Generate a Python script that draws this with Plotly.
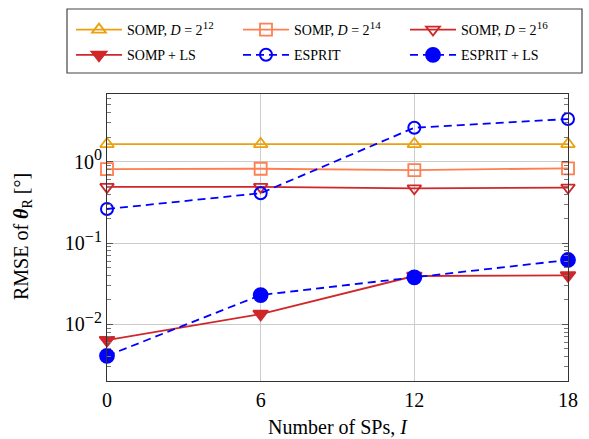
import plotly.graph_objects as go

x_sp = [0, 6, 12, 18]
somp_d12 = [1.65, 1.65, 1.65, 1.65]
somp_d14 = [0.81, 0.82, 0.79, 0.83]
somp_d16 = [0.49, 0.49, 0.47, 0.48]
somp_ls = [0.0064, 0.0134, 0.0393, 0.0400]
esprit = [0.262, 0.41, 2.62, 3.35]
esprit_ls = [0.0041, 0.0229, 0.0379, 0.0618]

y_tickvals = [0.01, 0.1, 1]
y_exps = ["−2", "−1", "0"]

SUP = "<sup><span style='font-size:11px'>%s</span></sup>"
names = ["SOMP, <i>D</i> = 2" + SUP % "12", "SOMP, <i>D</i> = 2" + SUP % "14",
         "SOMP, <i>D</i> = 2" + SUP % "16", "SOMP + LS", "ESPRIT", "ESPRIT + LS"]

FONT = "Liberation Serif"
c_orange = "#EBA10F"
c_coral = "#FF7F50"
c_red = "#D0272B"
c_blue = "#0000FF"

W, H = 589, 439
L, R, T, B = 107, 21, 94, 58
PW, PH = W - L - R, H - T - B

def px_x(p):  # container pixel -> paper
    return (p - L) / PW

def px_y(p):
    return (H - B - p) / PH

fig = go.Figure()
def add(y, name, color, symbol, size, leg, dash="solid", width=1.8, lw=1.8):
    fig.add_trace(go.Scatter(
        x=x_sp, y=y, name=name, mode="lines+markers", cliponaxis=False,
        legend=leg, legendgroup=name,
        line=dict(color=color, width=width, dash=dash),
        marker=dict(symbol=symbol, size=size, color=color,
                    line=dict(color=color, width=lw))))

add(somp_d12, names[0], c_orange, "triangle-up-open", 12, "legend")
add(somp_d14, names[1], c_coral, "square-open", 12, "legend2")
add(somp_d16, names[2], c_red, "triangle-down-open", 12, "legend3")
add(somp_ls, names[3], c_red, "triangle-down", 13, "legend")
add(esprit, names[4], c_blue, "circle-open", 12, "legend2", dash="8px,5px", lw=2)
add(esprit_ls, names[5], c_blue, "circle", 14, "legend3", dash="8px,5px")

minor_vals = [m * 10.0**e for e in (-3, -2, -1, 0) for m in range(2, 10)]
y_ticktext = ["10<sup><span style='font-size:16px'>%s</span></sup>" % e for e in y_exps]

def leg(xpx):
    return dict(
        orientation="v", xref="container", yref="container",
        x=xpx / W, y=1 - 14 / H, xanchor="left", yanchor="top",
        bgcolor="rgba(0,0,0,0)", borderwidth=0,
        font=dict(family=FONT, size=14, color="black"),
        itemwidth=46, tracegroupgap=4,
    )

fig.update_layout(
    width=W, height=H,
    margin=dict(l=L, r=R, t=T, b=B, autoexpand=False),
    paper_bgcolor="white", plot_bgcolor="white",
    font=dict(family=FONT, size=20, color="black"),
    showlegend=True,
    legend=leg(71), legend2=leg(238), legend3=leg(405),
    xaxis=dict(
        range=[0, 18], tickvals=x_sp, ticks="",
        showgrid=True, gridcolor="#cccccc", gridwidth=1,
        showline=True, linecolor="#333", linewidth=1.2, mirror=True,
        zeroline=False, ticklabelstandoff=1, automargin=False,
        tickfont=dict(family=FONT, size=20),
    ),
    yaxis=dict(
        type="log", range=[-2.697, 0.833],
        tickvals=y_tickvals, ticktext=y_ticktext,
        ticks="inside", ticklen=6, tickcolor="#555",
        showgrid=True, gridcolor="#cccccc", gridwidth=1,
        showline=True, linecolor="#333", linewidth=1.2, mirror="ticks",
        zeroline=False, automargin=False,
        minor=dict(tickvals=minor_vals, ticks="inside", ticklen=4, tickcolor="#777", showgrid=False),
        tickfont=dict(family=FONT, size=20),
    ),
    annotations=[
        dict(text="Number of SPs, <i>I</i>", xref="paper", yref="paper",
             x=0.5, y=px_y(427), xanchor="center", yanchor="middle",
             showarrow=False, font=dict(family=FONT, size=20)),
        dict(text="RMSE of <b><i>θ</i></b><sub>R</sub> [°]", xref="paper", yref="paper",
             x=px_x(22), y=px_y(237), xanchor="center", yanchor="middle", textangle=-90,
             showarrow=False, font=dict(family=FONT, size=20)),
    ],
    shapes=[
        dict(type="rect", xref="paper", yref="paper",
             x0=px_x(67), x1=px_x(582), y0=px_y(73), y1=px_y(9),
             line=dict(color="#444", width=1.2), fillcolor="rgba(0,0,0,0)", layer="above"),
    ],
)

fig.write_html("out.html")
